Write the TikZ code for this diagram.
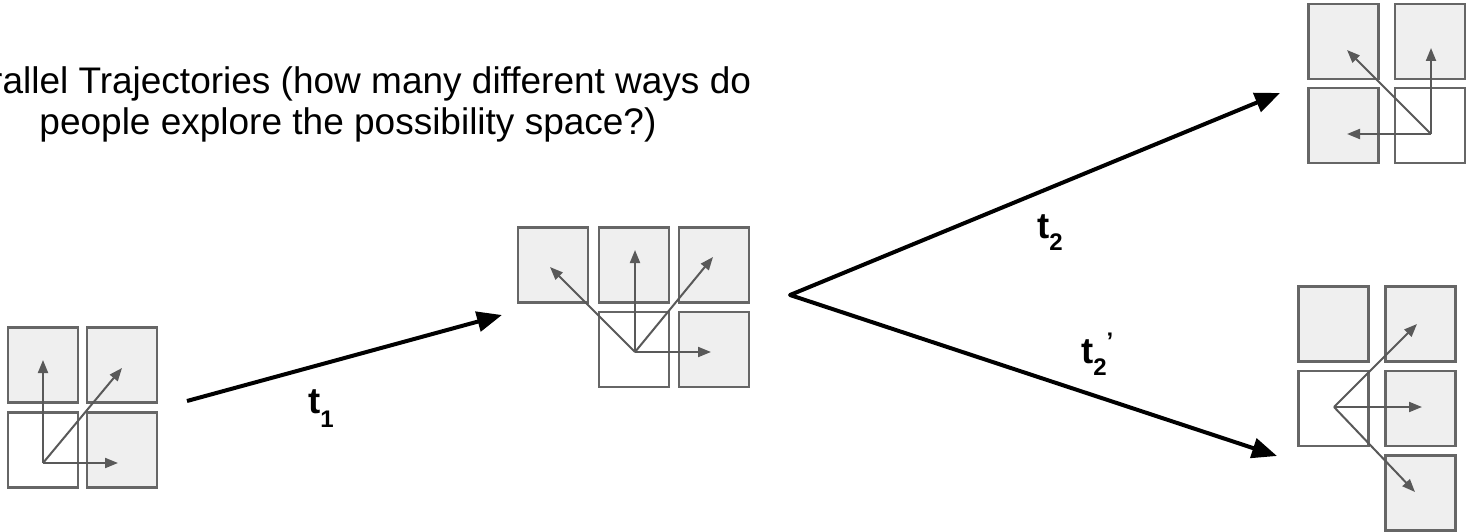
\documentclass[tikz,border=0pt]{standalone}
\usepackage{fontspec}
\setmainfont{Liberation Sans}
\usetikzlibrary{arrows.meta}
\definecolor{cellfill}{HTML}{EFEFEF}
\definecolor{celldraw}{HTML}{666666}
\definecolor{movecol}{HTML}{595959}
\begin{document}
\begin{tikzpicture}[x=1pt,y=-1pt,
 cell/.style={draw=celldraw, line width=2.5pt, fill=cellfill, minimum width=70pt, minimum height=75pt, inner sep=0pt, outer sep=0pt},
 cur/.style={cell, fill=white},
 move/.style={draw=movecol, line width=2pt, -{Triangle[length=13pt,width=10pt]}},
 traj/.style={draw=black, line width=4pt, line join=round, -{Triangle[length=25pt,width=20pt]}},
 lab/.style={inner sep=0pt, anchor=base west, font=\fontsize{36.5}{40}\selectfont\bfseries},
 title/.style={inner sep=0pt, anchor=base, font=\fontsize{37}{42}\selectfont}]
\useasboundingbox (0,0) rectangle (1466,532);
\clip (0,0) rectangle (1466,532);

% title
\node[title] (title1) at (348,94) {Parallel Trajectories (how many different ways do};
\node[title] (title2) at (348,135) {people explore the possibility space?)};

% left group
\node[cell] (L11) at (43,365) {};
\node[cell] (L12) at (122,365) {};
\node[cur]  (L21) at (43,450) {};
\node[cell] (L22) at (122,450) {};
\coordinate (Lo) at (43,463);
\coordinate (Lu) at (43,360);
\coordinate (Ld) at (122,368);
\coordinate (Lr) at (118,463);
\draw[move] (Lo) -- (Lu);
\draw[move] (Lo) -- (Ld);
\draw[move] (Lo) -- (Lr);

% middle group
\node[cell] (M1) at (553,265) {};
\node[cell] (M2) at (634,265) {};
\node[cell] (M3) at (714,265) {};
\node[cur]  (M4) at (634,349.5) {};
\node[cell] (M5) at (714,349.5) {};
\coordinate (Mo) at (635,352);
\coordinate (Mu) at (635,250);
\coordinate (Mul) at (550,267);
\coordinate (Mur) at (713,257);
\coordinate (Mr) at (711,352);
\draw[move] (Mo) -- (Mul);
\draw[move] (Mo) -- (Mu);
\draw[move] (Mo) -- (Mur);
\draw[move] (Mo) -- (Mr);

% top-right group
\node[cell] (R1) at (1343.5,41.5) {};
\node[cell] (R2) at (1430,41.5) {};
\node[cell] (R3) at (1343.5,125.5) {};
\node[cur]  (R4) at (1430,125.5) {};
\coordinate (Ro) at (1431,134);
\coordinate (Ru) at (1431,48);
\coordinate (Rul) at (1347,50);
\coordinate (Rl) at (1347,134);
\draw[move] (Ro) -- (Ru);
\draw[move] (Ro) -- (Rul);
\draw[move] (Ro) -- (Rl);

% bottom-right group
\node[cell] (B1) at (1333.5,324) {};
\node[cell] (B2) at (1420.5,324) {};
\node[cur]  (B3) at (1333.5,408.5) {};
\node[cell] (B4) at (1420.5,408.5) {};
\node[cell] (B5) at (1420.5,493) {};
\coordinate (Bo) at (1334,407);
\coordinate (Bur) at (1417,324);
\coordinate (Br) at (1422,407);
\coordinate (Bdr) at (1415,492);
\draw[move] (Bo) -- (Bur);
\draw[move] (Bo) -- (Br);
\draw[move] (Bo) -- (Bdr);

% trajectories
\coordinate (s1) at (187,401);
\coordinate (e1) at (502,315);
\coordinate (v) at (790,295);
\coordinate (e2) at (1280,93);
\coordinate (e3) at (1277,456);
\draw[traj] (s1) -- (e1);
\draw[traj, {Triangle[length=25pt,width=20pt]}-{Triangle[length=25pt,width=20pt]}] (e2) -- (v) -- (e3);

% labels
\node[lab] (t1) at (308,413) {t\raisebox{-14pt}{\fontsize{24}{24}\selectfont 1}};
\node[lab] (t2) at (1037,238) {t\raisebox{-12pt}{\fontsize{24}{24}\selectfont 2}};
\node[lab] (t2p) at (1081,363) {t\raisebox{-12pt}{\fontsize{24}{24}\selectfont 2}\raisebox{14pt}{\fontsize{24}{24}\selectfont ’}};
\end{tikzpicture}
\end{document}
